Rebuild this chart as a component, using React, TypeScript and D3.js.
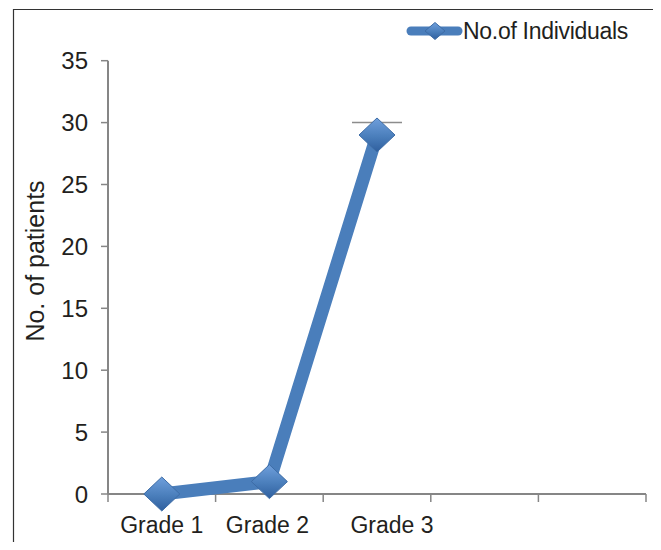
import React from 'react';
import * as d3 from 'd3';

const WIDTH = 661;
const HEIGHT = 550;
const MARGIN = { top: 60, right: 15, bottom: 56, left: 108 };

const categories = ['Grade 1', 'Grade 2', 'Grade 3', '', ''];
const individuals = [0, 1, 29];
const capValues = [0, 0, 30];
const yTicks = [0, 5, 10, 15, 20, 25, 30, 35];
// the third category label sits to the right of its slot centre in the original
const labelShift = [0, -2, 15, 0, 0];

const SERIES_NAME = 'No.of Individuals';
const BLUE = '#4a7ebb';
const AXIS = '#868686';
const TEXT = '#231f20';
const FONT = '"Liberation Sans", Arial, sans-serif';

const Diamond = ({ cx, cy, rx, ry }: { cx: number; cy: number; rx: number; ry: number }) => (
  <path
    d={`M${cx},${cy - ry}L${cx + rx},${cy}L${cx},${cy + ry}L${cx - rx},${cy}Z`}
    fill="url(#diamondFill)"
    stroke="#3d6ca6"
    strokeWidth={1}
  />
);

export default function App() {
  // five category slots, axis runs from x=108 to x=646
  const xScale = d3
    .scaleBand<number>()
    .domain(d3.range(categories.length))
    .range([MARGIN.left, 646])
    .padding(0);

  const yScale = d3.scaleLinear().domain([0, 35]).range([494, 60.7]);

  const cx = (i: number) => (xScale(i) ?? 0) + xScale.bandwidth() / 2;

  const line = d3
    .line<number>()
    .x((_, i) => cx(i))
    .y((d) => yScale(d));

  const bandEdges = d3.range(categories.length + 1).map((i) => MARGIN.left + i * xScale.step());

  return (
    <div style={{ margin: -8 }}>
      <svg width={WIDTH} height={HEIGHT} style={{ display: 'block', fontFamily: FONT }}>
        <defs>
          <linearGradient id="diamondFill" x1="0" y1="0" x2="0" y2="1">
            <stop offset="0%" stopColor="#6f9fdc" />
            <stop offset="55%" stopColor="#4a7ebb" />
            <stop offset="100%" stopColor="#2f5f9e" />
          </linearGradient>
        </defs>
        <rect x={0} y={0} width={WIDTH} height={HEIGHT} fill="#fff" />
        {/* frame */}
        <path d={`M13.5,${HEIGHT}V9.5H658.5V${HEIGHT}`} fill="none" stroke="#333" strokeWidth={1.2} />

        {/* y axis */}
        <line x1={MARGIN.left} x2={MARGIN.left} y1={yScale(35)} y2={yScale(0)} stroke={AXIS} strokeWidth={2} />
        {yTicks.map((t) => (
          <g key={t}>
            <line x1={MARGIN.left - 7} x2={MARGIN.left} y1={yScale(t)} y2={yScale(t)} stroke={AXIS} strokeWidth={1.5} />
            <text x={88} y={yScale(t)} dy="0.36em" textAnchor="end" fontSize={24} fill={TEXT}>
              {t}
            </text>
          </g>
        ))}
        <text transform={`translate(44,261) rotate(-90)`} textAnchor="middle" fontSize={25} fill={TEXT}>
          No. of patients
        </text>

        {/* x axis */}
        <line x1={MARGIN.left} x2={646} y1={yScale(0)} y2={yScale(0)} stroke={AXIS} strokeWidth={2} />
        {bandEdges.map((x, i) => (
          <line key={i} x1={x} x2={x} y1={yScale(0)} y2={yScale(0) + 8} stroke={AXIS} strokeWidth={1.5} />
        ))}
        {categories.map((c, i) =>
          c ? (
            <text key={c} x={cx(i) + labelShift[i]} y={533} textAnchor="middle" fontSize={23} fill={TEXT}>
              {c}
            </text>
          ) : null
        )}

        {/* caps */}
        {capValues.map((v, i) =>
          v > 0 ? (
            <line key={i} x1={cx(i) - 25} x2={cx(i) + 25} y1={yScale(v)} y2={yScale(v)} stroke="#8c8c8c" strokeWidth={1.5} />
          ) : null
        )}

        {/* series */}
        <path d={line(individuals) ?? ''} fill="none" stroke={BLUE} strokeWidth={13} strokeLinejoin="round" />
        {individuals.map((v, i) => (
          <Diamond key={i} cx={cx(i)} cy={yScale(v)} rx={18} ry={17} />
        ))}

        {/* legend */}
        <line x1={411} x2={458} y1={31} y2={31} stroke={BLUE} strokeWidth={9} strokeLinecap="round" />
        <Diamond cx={435} cy={31} rx={10} ry={8.5} />
        <text x={463} y={38.5} fontSize={23} fill={TEXT} letterSpacing={-0.3}>
          {SERIES_NAME}
        </text>
      </svg>
    </div>
  );
}
